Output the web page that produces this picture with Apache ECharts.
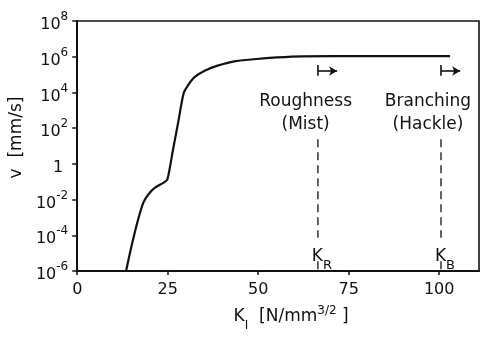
<!DOCTYPE html>
<html>
<head>
<meta charset="utf-8">
<script src="https://cdn.jsdelivr.net/npm/echarts@6/dist/echarts.min.js"></script>
<style>
  html, body { margin: 0; padding: 0; background: #fff; }
  #chart { width: 482px; height: 337px; }
</style>
</head>
<body>
<div id="chart"></div>
<script>
// Crack velocity v versus stress intensity factor K_I
const stressIntensity = [13.5, 15.1, 16.9, 18.3, 19.7, 21.5, 23.8, 24.9, 26.5, 27.9, 29.4, 30.6, 32.4, 35.2, 38.8, 43.4, 48.8, 55.2, 62, 80, 103];
const crackVelocity = [1e-6, 3.0e-5, 8.7e-4, 6.9e-3, 2.0e-2, 4.6e-2, 8.7e-2, 0.132, 6.8, 214, 8900, 2.5e4, 7.2e4, 1.66e5, 3.16e5, 5.5e5, 7.2e5, 9.1e5, 1.05e6, 1.07e6, 1.07e6];

// Threshold values: roughness (mist) and branching (hackle)
const kRoughness = 66.5;
const kBranching = 100.5;

// Axis ticks
const xTickValues = [0, 25, 50, 75, 100];
const yTickExponents = [-6, -4, -2, 0, 2, 4, 6, 8];

const INK = '#111';
const FONT = 'DejaVu Sans';

const chart = echarts.init(document.getElementById('chart'), null, { renderer: 'canvas' });

const curve = stressIntensity.map((k, i) => [k, crackVelocity[i]]);

// dashed threshold markers run in two pieces, interrupted by the K label
const dashTop = Math.pow(10, 1.38);
const dashLabelTop = Math.pow(10, -4.14);
const dashLabelBottom = Math.pow(10, -5.45);
const dashBottom = 1e-6;
const labelLevel = Math.pow(10, -5.4);
// arrows marking the onset of each regime
const arrowLevel = Math.pow(10, 5.2);
const barLow = Math.pow(10, 4.93);
const barHigh = Math.pow(10, 5.53);
const arrowLength = 5.3;

function dashed(k, top, bottom) {
  return {
    type: 'line', data: [[k, top], [k, bottom]], showSymbol: false, silent: true,
    lineStyle: { color: INK, width: 1.3, type: [8, 5] }, z: 2
  };
}
function bar(k) {
  return {
    type: 'line', data: [[k, barLow], [k, barHigh]], showSymbol: false, silent: true,
    lineStyle: { color: INK, width: 1.6 }, z: 2
  };
}

const textLabel = {
  show: true, position: 'inside', color: INK, opacity: 1, fontFamily: FONT, fontSize: 17, lineHeight: 23, align: 'center'
};
const kLabel = {
  show: true, position: 'inside', color: INK, opacity: 1, fontFamily: FONT,
  formatter: p => '{k|K}{s|' + p.data.sub + '}',
  rich: {
    k: { fontSize: 17, fontFamily: FONT, color: INK, lineHeight: 24, verticalAlign: 'top' },
    s: { fontSize: 13, fontFamily: FONT, color: INK, lineHeight: 24, verticalAlign: 'bottom' }
  }
};

chart.setOption({
  animation: false,
  backgroundColor: '#fff',
  grid: { left: 73, right: 3, top: 21, bottom: 60, show: true, borderColor: INK, borderWidth: 1.6 },
  xAxis: {
    type: 'value', min: 0, max: 111, interval: 25,
    axisLine: { show: true, lineStyle: { color: INK, width: 2 } },
    axisTick: { show: true, length: 4, lineStyle: { color: INK, width: 1.5 } },
    splitLine: { show: false },
    axisLabel: {
      color: INK, fontFamily: FONT, fontSize: 16, margin: 11, showMaxLabel: false,
      formatter: v => (xTickValues.indexOf(v) >= 0 ? String(v) : '')
    },
    name: '{k|K}{i|I}{t|  [N/mm}{p|3/2}{t| ]}',
    nameLocation: 'middle', nameGap: 37,
    nameTextStyle: {
      padding: [0, 0, 0, 26],
      rich: {
        k: { fontSize: 17, fontFamily: FONT, color: INK, lineHeight: 24, verticalAlign: 'top' },
        i: { fontSize: 12, fontFamily: FONT, color: INK, lineHeight: 24, verticalAlign: 'bottom' },
        t: { fontSize: 17, fontFamily: FONT, color: INK, lineHeight: 24, verticalAlign: 'top' },
        p: { fontSize: 12, fontFamily: FONT, color: INK, lineHeight: 24, verticalAlign: 'top', padding: [-3, 0, 0, 0] }
      }
    }
  },
  yAxis: {
    type: 'log', logBase: 10, min: 1e-6, max: 1e8, interval: 2,
    axisLine: { show: true, lineStyle: { color: INK, width: 2 } },
    axisTick: { show: true, length: 5, lineStyle: { color: INK, width: 1.5 } },
    splitLine: { show: false },
    minorTick: { show: false },
    axisLabel: {
      margin: 9,
      formatter: v => {
        const e = Math.round(Math.log10(v));
        if (yTickExponents.indexOf(e) < 0) return '';
        if (e === 0) return '{one|1}';
        return '{b|10}{s|' + (e < 0 ? '-' + (-e) : e) + '}';
      },
      rich: {
        b: { fontSize: 16, fontFamily: FONT, color: INK, lineHeight: 24, verticalAlign: 'bottom' },
        s: { fontSize: 12, fontFamily: FONT, color: INK, lineHeight: 24, verticalAlign: 'top', padding: [2, 0, 0, 0] },
        one: { fontSize: 16, fontFamily: FONT, color: INK, lineHeight: 24, verticalAlign: 'bottom', padding: [0, 5, 0, 0] }
      }
    },
    name: 'v  [mm/s]',
    nameLocation: 'middle', nameGap: 52, nameRotate: 90,
    nameTextStyle: { color: INK, fontFamily: FONT, fontSize: 17, padding: [0, 0, 0, 17] }
  },
  series: [
    {
      type: 'line', data: curve, showSymbol: false, smooth: 0.25, silent: true,
      lineStyle: { color: INK, width: 2.2 }, z: 3,
      markLine: {
        silent: true, symbol: ['none', 'arrow'], symbolSize: [7, 8], animation: false,
        lineStyle: { color: INK, width: 1.6, type: 'solid' }, label: { show: false },
        data: [
          [{ coord: [kRoughness, arrowLevel] }, { coord: [kRoughness + arrowLength, arrowLevel] }],
          [{ coord: [kBranching, arrowLevel] }, { coord: [kBranching + arrowLength, arrowLevel] }]
        ]
      }
    },
    dashed(kRoughness, dashTop, dashLabelTop),
    dashed(kRoughness, dashLabelBottom, dashBottom),
    dashed(kBranching, dashTop, dashLabelTop),
    dashed(kBranching, dashLabelBottom, dashBottom),
    bar(kRoughness),
    bar(kBranching),
    {
      type: 'scatter', symbolSize: 0, silent: true, z: 5,
      itemStyle: { opacity: 1 },
      data: [
        { value: [63.1, Math.pow(10, 2.83)], label: Object.assign({ formatter: 'Roughness\n(Mist)' }, textLabel) },
        { value: [96.9, Math.pow(10, 2.83)], label: Object.assign({ formatter: 'Branching\n(Hackle)' }, textLabel) },
        { value: [kRoughness + 1.1, labelLevel], sub: 'R', label: kLabel },
        { value: [kBranching + 1.1, labelLevel], sub: 'B', label: kLabel }
      ]
    }
  ]
});
</script>
</body>
</html>
